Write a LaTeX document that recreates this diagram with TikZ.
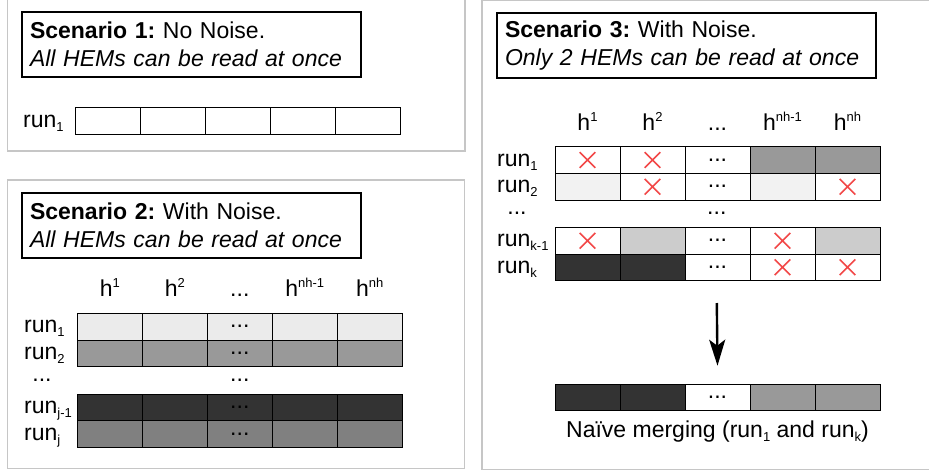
\documentclass[tikz,border=0pt]{standalone}
\usepackage{fontspec}
\setmainfont{Liberation Sans}
\usepackage{tikz}
\usetikzlibrary{arrows.meta}
\usetikzlibrary{shapes.misc}

\definecolor{xred}{RGB}{242,72,72}
\definecolor{cellA}{gray}{0.92}
\definecolor{cellB}{gray}{0.60}
\definecolor{cellC}{gray}{0.50}
\definecolor{cellD}{gray}{0.20}
\definecolor{cellE}{gray}{0.95}
\definecolor{cellF}{gray}{0.80}

% small raised / lowered text in the body font
\newcommand{\lowtxt}[1]{\raisebox{-4pt}{\fontsize{13}{13}\selectfont #1}}
\newcommand{\hightxt}[1]{\raisebox{9pt}{\fontsize{13}{13}\selectfont #1}}
\newcommand{\threedots}{...}

\begin{document}
\begin{tikzpicture}
		[
		x=1pt, y=-1pt,
		font=\fontsize{23}{28}\selectfont\frenchspacing
		]
		
		% Node styles: frames, cells and marks
		\tikzstyle{panel}=[draw=gray!45, line width=1.3pt]
		\tikzstyle{title box}=[draw, line width=2pt, anchor=north west, align=left, inner xsep=8pt, minimum height=65pt]
		\tikzstyle{cell}=[draw, line width=0.9pt, minimum width=65pt, minimum height=26.7pt, inner sep=0pt]
		\tikzstyle{xcross}=[cross out, draw=xred, line width=1.6pt, minimum size=14pt, inner sep=0pt]
		\tikzstyle{run label}=[anchor=base west, inner sep=0pt]
		\tikzstyle{head label}=[anchor=base, inner sep=0pt]
		
		\useasboundingbox (0,0) rectangle (929,472);
		
		% Scenario 1
		\draw[panel] (7.3,-2) rectangle (465,151);
		\node[title box, text width=323pt] (title1) at (21,11) {\textbf{Scenario 1:} No Noise.\\\textit{All HEMs can be read at once}};
		\node[run label] (s1-run1) at (23,127.5) {run\lowtxt{1}};
		\foreach \c in {1,...,5}
			\node[cell] (s1-\c) at ({75.5+65*\c-32.5},120.7) {};
		
		% Scenario 2
		\draw[panel] (7.3,180) rectangle (464.5,468.7);
		\node[title box, text width=323pt] (title2) at (21,191.7) {\textbf{Scenario 2:} With Noise.\\\textit{All HEMs can be read at once}};
		% column heads
		\foreach \c/\h in {1/h\hightxt{1}, 2/h\hightxt{2}, 3/\threedots, 4/h\hightxt{nh-1}, 5/h\hightxt{nh}}
			\node[head label] (s2-h\c) at ({77.3+65*\c-32.5},296.7) {\h};
		% runs, one shade per row
		\foreach \r/\y/\f/\lab in {1/326.7/cellA/run\lowtxt{1}, 2/353.3/cellB/run\lowtxt{2}, 3/407.3/cellD/run\lowtxt{j-1}, 4/434/cellC/run\lowtxt{j}}
		{
			\node[run label] (s2-run\r) at (24,\y+6) {\lab};
			\foreach \c in {1,...,5}
				\node[cell, fill=\f] (s2-\r-\c) at ({77.3+65*\c-32.5},\y) {};
			\node (s2-\r-dots) at (s2-\r-3) {\threedots};
		}
		\node (s2-gap-l) at (42,380.3) {\threedots};
		\node (s2-gap-m) at (239.8,380.3) {\threedots};
		
		% Scenario 3
		\draw[panel] (482,0.7) rectangle (935,469.3);
		\node[title box, text width=363pt] (title3) at (496,12) {\textbf{Scenario 3:} With Noise.\\\textit{Only 2 HEMs can be read at once}};
		\foreach \c/\h in {1/h\hightxt{1}, 2/h\hightxt{2}, 3/\threedots, 4/h\hightxt{nh-1}, 5/h\hightxt{nh}}
			\node[head label] (s3-h\c) at ({555+65*\c-32.5},130) {\h};
		% runs: fill/mark for each cell (x = lost, d = dots, n = nothing)
		\foreach \r/\y/\lab/\cells in {
			1/160/run\lowtxt{1}/{white/x, white/x, white/d, cellB/n, cellB/n},
			2/186.7/run\lowtxt{2}/{cellE/n, white/x, white/d, cellE/n, white/x},
			3/240.7/run\lowtxt{k-1}/{white/x, cellF/n, white/d, white/x, cellF/n},
			4/267.3/run\lowtxt{k}/{cellD/n, cellD/n, white/d, white/x, white/x}}
		{
			\node[run label] (s3-run\r) at (497,\y+6) {\lab};
			\foreach \f/\m [count=\c] in \cells
			{
				\node[cell, fill=\f] (s3-\r-\c) at ({555+65*\c-32.5},\y) {\if d\m \threedots\fi};
				\if x\m \node[xcross] (s3-\r-\c-x) at (s3-\r-\c) {}; \fi
			}
		}
		\node (s3-gap-l) at (517,213.7) {\threedots};
		\node (s3-gap-m) at (716.8,213.7) {\threedots};
		
		% Merged run
		\foreach \c/\f in {1/cellD, 2/cellD, 3/white, 4/cellB, 5/cellB}
			\node[cell, fill=\f] (m-\c) at ({555+65*\c-32.5},397.5) {};
		\node (m-dots) at (m-3) {\threedots};
		\coordinate (arrow top) at (716.8,303);
		\draw[line width=2.4pt, -{Stealth[length=26pt, width=16pt, inset=6pt]}] (arrow top) -- ([yshift=18pt]m-3.north);
		\node[anchor=base] (merge label) at ([yshift=-26pt]m-3.south) {Naïve merging (run\lowtxt{1} and run\lowtxt{k})};
		\end{tikzpicture}
\end{document}
